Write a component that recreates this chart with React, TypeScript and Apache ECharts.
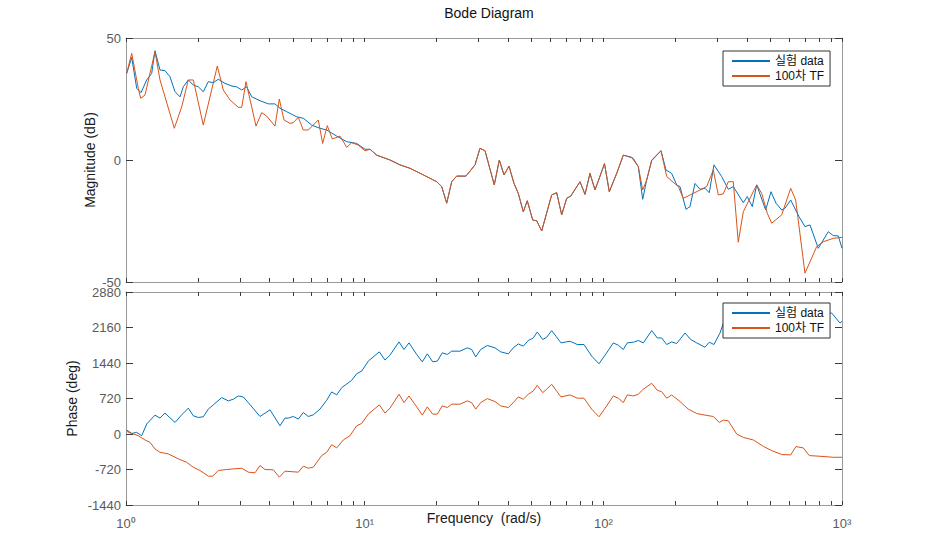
import React, { useEffect, useRef } from 'react';
import * as echarts from 'echarts';

const chartTitle = 'Bode Diagram';
const seriesNames = ['실험 data', '100차 TF'];
const xDecades = [1, 10, 100, 1000];
const xDecadeLabels = ['10⁰', '10¹', '10²', '10³'];
const xTickValues = [
  1, 2, 3, 4, 5, 6, 7, 8, 9,
  10, 20, 30, 40, 50, 60, 70, 80, 90,
  100, 200, 300, 400, 500, 600, 700, 800, 900, 1000,
];
const magTicks = [-50, 0, 50];
const phaseTicks = [-1440, -720, 0, 720, 1440, 2160, 2880];

// log10(frequency rad/s) and magnitude (dB) of the measured data
const magDataLogW = [
  0.0029, 0.0239, 0.0448, 0.0628, 0.0867, 0.1077, 0.1215, 0.1425, 0.1634, 0.1844,
  0.2053, 0.2263, 0.2401, 0.261, 0.282, 0.3029, 0.3239, 0.3448, 0.3658, 0.3867,
  0.4148, 0.4429, 0.4638, 0.4848, 0.5057, 0.5267, 0.5614, 0.5962, 0.6243, 0.6452,
  0.6733, 0.7152, 0.7429, 0.7781, 0.8128, 0.8409, 0.8828, 0.9247, 0.9666, 1.0014,
  1.0223, 1.0504, 1.1061, 1.148, 1.1899, 1.2457, 1.3018, 1.3228, 1.3437, 1.3647,
  1.3856, 1.4246, 1.4623, 1.4832, 1.5042, 1.5431, 1.5641, 1.5838, 1.6047, 1.6257,
  1.6437, 1.6646, 1.6814, 1.704, 1.7208, 1.7417, 1.7836, 1.8046, 1.8255, 1.8465,
  1.8633, 1.9022, 1.9232, 1.9441, 1.9651, 2.0049, 2.025, 2.056, 2.0837, 2.1189,
  2.1465, 2.1649, 2.1817, 2.2026, 2.2416, 2.2626, 2.2864, 2.3074, 2.3212, 2.3463,
  2.3631, 2.384, 2.405, 2.4259, 2.4439, 2.4636, 2.4959, 2.5235, 2.5445, 2.5864,
  2.6031, 2.6241, 2.6425, 2.6802, 2.7025, 2.7234, 2.7473, 2.7611, 2.785, 2.8198,
  2.8449, 2.8658, 2.9006, 2.9425, 2.9635, 2.9844, 3.0,
];
const magDataDb = [
  35.5, 42, 29.4, 27.6, 32.8, 35.5, 44.8, 36.9, 36.6, 34.1,
  28, 25.9, 30, 32.8, 30.7, 30, 28, 32.1, 31.7, 33.1,
  31.4, 30.3, 30, 28.7, 30, 25.9, 24.3, 23, 23, 21.2,
  19.8, 17.7, 17.1, 14.3, 13, 12.3, 9.8, 7.5, 6.8, 4.4,
  4.4, 2, 0, -2, -3.4, -6.1, -8.9, -10.9, -17.7, -8.9,
  -6.6, -6.6, -2, 4.8, 3.8, -10.2, 0, -6.1, -2.5, -9.6,
  -13.7, -21.2, -16.7, -24.6, -24.9, -29.1, -14.3, -13.4, -22.5, -15.7,
  -14.8, -8.9, -14.1, -5.5, -12.3, -1.5, -13, -5.5, 2, 1.1,
  -2.7, -16.1, -8.2, -0.3, 3.8, -4.1, -5.5, -10.2, -10.9, -20.2,
  -19.1, -9.6, -12, -11.6, -13.4, -2, -6.8, -12, -10.9, -17.5,
  -15, -19.1, -10.2, -20.5, -13, -17.7, -20.5, -19.8, -16.4, -23.2,
  -27.3, -26.6, -36.2, -29.4, -31, -31.1, -36.2,
];

// log10(frequency) and magnitude (dB) of the 100th-order transfer function
const magTfLogW = [
  0.0029, 0.0239, 0.0515, 0.0616, 0.0796, 0.1215, 0.1425, 0.2024, 0.2334, 0.261,
  0.282, 0.3239, 0.3825, 0.4077, 0.4357, 0.4705, 0.4848, 0.5028, 0.5447, 0.5686,
  0.5895, 0.6243, 0.6423, 0.662, 0.6871, 0.701, 0.7219, 0.7429, 0.7638, 0.8057,
  0.8241, 0.8434, 0.8644, 0.8966, 0.9247, 0.9457, 0.9733, 1.0014, 1.0223, 1.0504,
  1.1061, 1.148, 1.1899, 1.2457, 1.3018, 1.3228, 1.3437, 1.3647, 1.3856, 1.4246,
  1.4623, 1.4832, 1.5042, 1.5431, 1.5641, 1.5838, 1.6047, 1.6257, 1.6437, 1.6646,
  1.6814, 1.704, 1.7208, 1.7417, 1.7836, 1.8046, 1.8255, 1.8465, 1.8633, 1.9022,
  1.9232, 1.9441, 1.9651, 2.0049, 2.025, 2.056, 2.0837, 2.1256, 2.1465, 2.1649,
  2.1817, 2.2026, 2.2416, 2.2655, 2.3141, 2.335, 2.3769, 2.433, 2.4607, 2.4816,
  2.5026, 2.5235, 2.5445, 2.5654, 2.5864, 2.6425, 2.6635, 2.6869, 2.7054, 2.7473,
  2.785, 2.8059, 2.8449, 2.8939, 2.9216, 2.9635, 3.0,
];
const magTfDb = [
  35.5, 43.7, 29.4, 25.3, 26.6, 44.4, 32.8, 13, 21.8, 32.8,
  32.8, 14.3, 38.5, 28.7, 24.6, 21.6, 21.6, 32.1, 13.9, 19.4,
  18, 13.9, 25, 16.4, 15, 15.3, 17.5, 12.3, 12.3, 16.4,
  6.8, 14.1, 8.6, 9.8, 5.2, 7.1, 6.1, 3.8, 4.4, 2,
  0, -2, -3.4, -6.1, -8.9, -10.9, -17.7, -8.9, -6.6, -6.6,
  -2, 4.8, 3.8, -10.2, 0, -6.1, -2.5, -9.6, -13.7, -21.2,
  -16.7, -24.6, -24.9, -29.1, -14.3, -13.4, -22.5, -15.7, -14.8, -8.9,
  -14.1, -5.5, -12.3, -1.5, -13, -5.5, 2, 0.7, -2.7, -12.3,
  -8.2, 0, 3.8, -6.8, -10.9, -15.7, -13.7, -10.9, -4.1, -14.3,
  -13.9, -8.9, -8.9, -33.7, -21.2, -10.2, -13.7, -21.8, -25.9, -22.5,
  -11.6, -16.4, -46.4, -35.5, -33.5, -32.1, -31.7,
];

// log10(frequency) and phase (deg) of the measured data
const phaseDataLogW = [
  0.0029, 0.0239, 0.0448, 0.0658, 0.0867, 0.1215, 0.1425, 0.1634, 0.2053, 0.2334,
  0.261, 0.282, 0.3029, 0.3239, 0.3448, 0.3658, 0.401, 0.4286, 0.4496, 0.4705,
  0.4915, 0.5124, 0.5614, 0.6033, 0.6452, 0.6662, 0.68, 0.701, 0.7219, 0.7429,
  0.7638, 0.7848, 0.8128, 0.8409, 0.8619, 0.8828, 0.9038, 0.9457, 0.9666, 0.9876,
  1.0152, 1.0613, 1.0852, 1.1061, 1.1438, 1.1648, 1.1857, 1.218, 1.2415, 1.2624,
  1.285, 1.3043, 1.3253, 1.3462, 1.3647, 1.3994, 1.43, 1.4484, 1.4652, 1.4862,
  1.5138, 1.5461, 1.57, 1.6018, 1.6228, 1.6437, 1.6646, 1.6856, 1.7065, 1.7233,
  1.7459, 1.7627, 1.7836, 1.8017, 1.8226, 1.8603, 1.8909, 1.919, 1.9512, 1.9818,
  2.0141, 2.0417, 2.0627, 2.0837, 2.1004, 2.1256, 2.1465, 2.1675, 2.2026, 2.2261,
  2.2445, 2.2655, 2.2864, 2.3074, 2.3422, 2.366, 2.3912, 2.4259, 2.4439, 2.4636,
  2.4888, 2.5139, 2.5935, 2.6983, 2.824, 2.9078, 2.9568, 2.9916, 3.0,
];
const phaseDataDeg = [
  81, 12, 32, -34, 202, 383, 323, 424, 234, 389,
  524, 369, 335, 349, 504, 591, 738, 672, 706, 772,
  752, 637, 355, 490, 167, 323, 323, 355, 303, 436,
  355, 389, 504, 686, 853, 793, 940, 1089, 1222, 1277,
  1478, 1666, 1499, 1600, 1868, 1714, 1848, 1613, 1464, 1626,
  1464, 1478, 1646, 1613, 1680, 1680, 1747, 1714, 1565, 1714,
  1795, 1747, 1666, 1626, 1747, 1827, 1781, 1896, 1948, 2069,
  1916, 1962, 2097, 1983, 1848, 1882, 1815, 1815, 1579, 1424,
  1646, 1848, 1801, 1714, 1848, 1862, 1896, 1848, 2097, 1948,
  1948, 1815, 1868, 1835, 2049, 1916, 1848, 1761, 1862, 1815,
  2049, 2400, 2480, 2420, 2500, 2460, 2453, 2251, 2285,
];

// log10(frequency) and phase (deg) of the 100th-order transfer function
const phaseTfLogW = [
  0.0029, 0.0239, 0.0515, 0.0796, 0.1006, 0.1215, 0.1425, 0.1772, 0.2191, 0.2543,
  0.282, 0.3101, 0.3448, 0.3633, 0.3867, 0.4219, 0.4848, 0.5124, 0.5405, 0.5614,
  0.5824, 0.6172, 0.6423, 0.6662, 0.7219, 0.7429, 0.7638, 0.7848, 0.82, 0.8409,
  0.8619, 0.8828, 0.9105, 0.9385, 0.9666, 0.9876, 1.0152, 1.0613, 1.0852, 1.1061,
  1.1438, 1.1648, 1.1857, 1.218, 1.2415, 1.2624, 1.285, 1.3043, 1.3253, 1.3462,
  1.3647, 1.3994, 1.43, 1.4484, 1.4652, 1.4862, 1.5138, 1.5461, 1.57, 1.6018,
  1.6228, 1.6437, 1.6646, 1.6856, 1.7065, 1.7233, 1.7459, 1.7627, 1.7836, 1.8017,
  1.8226, 1.8603, 1.8909, 1.919, 1.9512, 1.9818, 2.0141, 2.0417, 2.0627, 2.0837,
  2.1004, 2.1256, 2.1465, 2.1675, 2.2026, 2.2261, 2.2445, 2.2655, 2.2864, 2.3212,
  2.3561, 2.3912, 2.4259, 2.4607, 2.4859, 2.5026, 2.5235, 2.5587, 2.5864, 2.6283,
  2.6702, 2.7054, 2.7473, 2.785, 2.8072, 2.8378, 2.863, 2.9078, 2.9635, 3.0,
];
const phaseTfDeg = [
  52, 12, -34, -121, -169, -303, -371, -403, -504, -573,
  -674, -740, -855, -855, -740, -720, -694, -774, -787, -639,
  -720, -726, -875, -754, -774, -653, -694, -673, -438, -371,
  -216, -282, -121, -34, 167, 214, 403, 591, 424, 524,
  807, 637, 772, 551, 383, 551, 403, 403, 571, 537,
  605, 605, 672, 637, 504, 637, 718, 658, 571, 537,
  637, 752, 706, 807, 873, 988, 839, 908, 1009, 887,
  752, 793, 726, 726, 504, 349, 571, 772, 726, 637,
  793, 772, 807, 908, 1029, 887, 859, 726, 793, 658,
  504, 416, 383, 355, 234, 282, 268, 0, -69, -121,
  -250, -337, -417, -424, -256, -282, -438, -451, -472, -472,
];

const toPairs = (logW: number[], vals: number[]) =>
  logW.map((l, i) => [Math.pow(10, l), vals[i]]);

export default function App() {
  const ref = useRef<HTMLDivElement>(null);

  useEffect(() => {
    if (!ref.current) return;
    const chart = echarts.init(ref.current, null, { renderer: 'svg' });
    const font = "'Liberation Sans', 'Noto Sans CJK KR', sans-serif";
    const boxColor = '#9a9a9a';
    const tickColor = '#3a3a3a';
    const labelColor = '#5a5a5a';
    const nameColor = '#1a1a1a';
    const blue = '#0072BD';
    const orange = '#D95319';

    const grids = [
      { left: 126, top: 38, width: 716, height: 244 },
      { left: 126, top: 292, width: 716, height: 213 },
    ].map((g) => ({ ...g, show: false }));

    const xAxes: any[] = [];
    [0, 1].forEach((g) => {
      ['bottom', 'top'].forEach((pos) => {
        const main = g === 1 && pos === 'bottom';
        xAxes.push({
          type: 'log',
          logBase: 10,
          min: 1,
          max: 1000,
          gridIndex: g,
          position: pos,
          axisLine: { show: true, onZero: false, lineStyle: { color: boxColor, width: 1 } },
          splitLine: { show: false },
          axisTick: {
            show: true,
            inside: true,
            length: 4,
            customValues: xTickValues,
            lineStyle: { color: tickColor, width: 1 },
          },
          axisLabel: main
            ? {
                show: true,
                customValues: xDecades,
                margin: 12,
                color: labelColor,
                fontSize: 13,
                fontFamily: font,
                formatter: (v: number) =>
                  xDecadeLabels[Math.round(Math.log10(v))] ?? '',
              }
            : { show: false },
          name: main ? 'Frequency  (rad/s)' : '',
          nameLocation: 'middle',
          nameGap: 6,
          nameMoveOverlap: false,
          nameTextStyle: { color: nameColor, fontSize: 14, fontFamily: font },
        });
      });
    });

    const yAxes: any[] = [];
    const yDefs = [
      { min: -50, max: 50, interval: 50, name: 'Magnitude (dB)', gap: 29 },
      { min: -1440, max: 2880, interval: 720, name: 'Phase (deg)', gap: 47 },
    ];
    yDefs.forEach((d, g) => {
      ['left', 'right'].forEach((pos) => {
        const main = pos === 'left';
        yAxes.push({
          type: 'value',
          gridIndex: g,
          position: pos,
          min: d.min,
          max: d.max,
          interval: d.interval,
          axisLine: { show: true, onZero: false, lineStyle: { color: boxColor, width: 1 } },
          splitLine: { show: false },
          axisTick: {
            show: true,
            inside: true,
            length: 7,
            lineStyle: { color: tickColor, width: 1 },
          },
          axisLabel: main
            ? {
                show: true,
                margin: 5,
                color: labelColor,
                fontSize: 13,
                fontFamily: font,
                formatter: (v: number) => String(v),
              }
            : { show: false },
          name: main ? d.name : '',
          nameLocation: 'middle',
          nameRotate: 90,
          nameGap: d.gap,
          nameMoveOverlap: false,
          nameTextStyle: { color: nameColor, fontSize: 14, fontFamily: font },
        });
      });
    });

    const line = (
      name: string,
      color: string,
      xi: number,
      yi: number,
      data: number[][]
    ) => ({
      type: 'line',
      name,
      xAxisIndex: xi,
      yAxisIndex: yi,
      data,
      symbol: 'none',
      showSymbol: false,
      lineStyle: { color, width: 1 },
      itemStyle: { color },
      emphasis: { disabled: true },
      z: 2,
    });

    const legendBase = {
      orient: 'vertical',
      left: 723,
      padding: [4, 6, 4, 8],
      itemWidth: 38,
      itemHeight: 12,
      itemGap: 3,
      backgroundColor: '#ffffff',
      borderColor: '#333333',
      borderWidth: 1,
      borderRadius: 0,
      selectedMode: false,
      z: 6,
      data: seriesNames,
      itemStyle: {
        color: 'rgba(0,0,0,0)',
        borderColor: 'rgba(0,0,0,0)',
        borderWidth: 0,
        opacity: 0,
      },
      textStyle: { color: '#111', fontSize: 12, fontFamily: font },
    };

    chart.setOption({
      animation: false,
      backgroundColor: '#ffffff',
      title: {
        text: chartTitle,
        left: 484,
        top: 1,
        textAlign: 'center',
        textStyle: { color: '#111', fontSize: 14, fontWeight: 'normal', fontFamily: font },
      },
      legend: [
        { ...legendBase, top: 51 },
        { ...legendBase, top: 303 },
      ],
      grid: grids,
      xAxis: xAxes,
      yAxis: yAxes,
      series: [
        line(seriesNames[0], blue, 0, 0, toPairs(magDataLogW, magDataDb)),
        line(seriesNames[1], orange, 0, 0, toPairs(magTfLogW, magTfDb)),
        line(seriesNames[0], blue, 2, 2, toPairs(phaseDataLogW, phaseDataDeg)),
        line(seriesNames[1], orange, 2, 2, toPairs(phaseTfLogW, phaseTfDeg)),
      ],
    });

    return () => chart.dispose();
  }, []);

  return (
    <div
      ref={ref}
      style={{ position: 'fixed', left: 0, top: 0, width: 932, height: 538, background: '#fff' }}
    />
  );
}
